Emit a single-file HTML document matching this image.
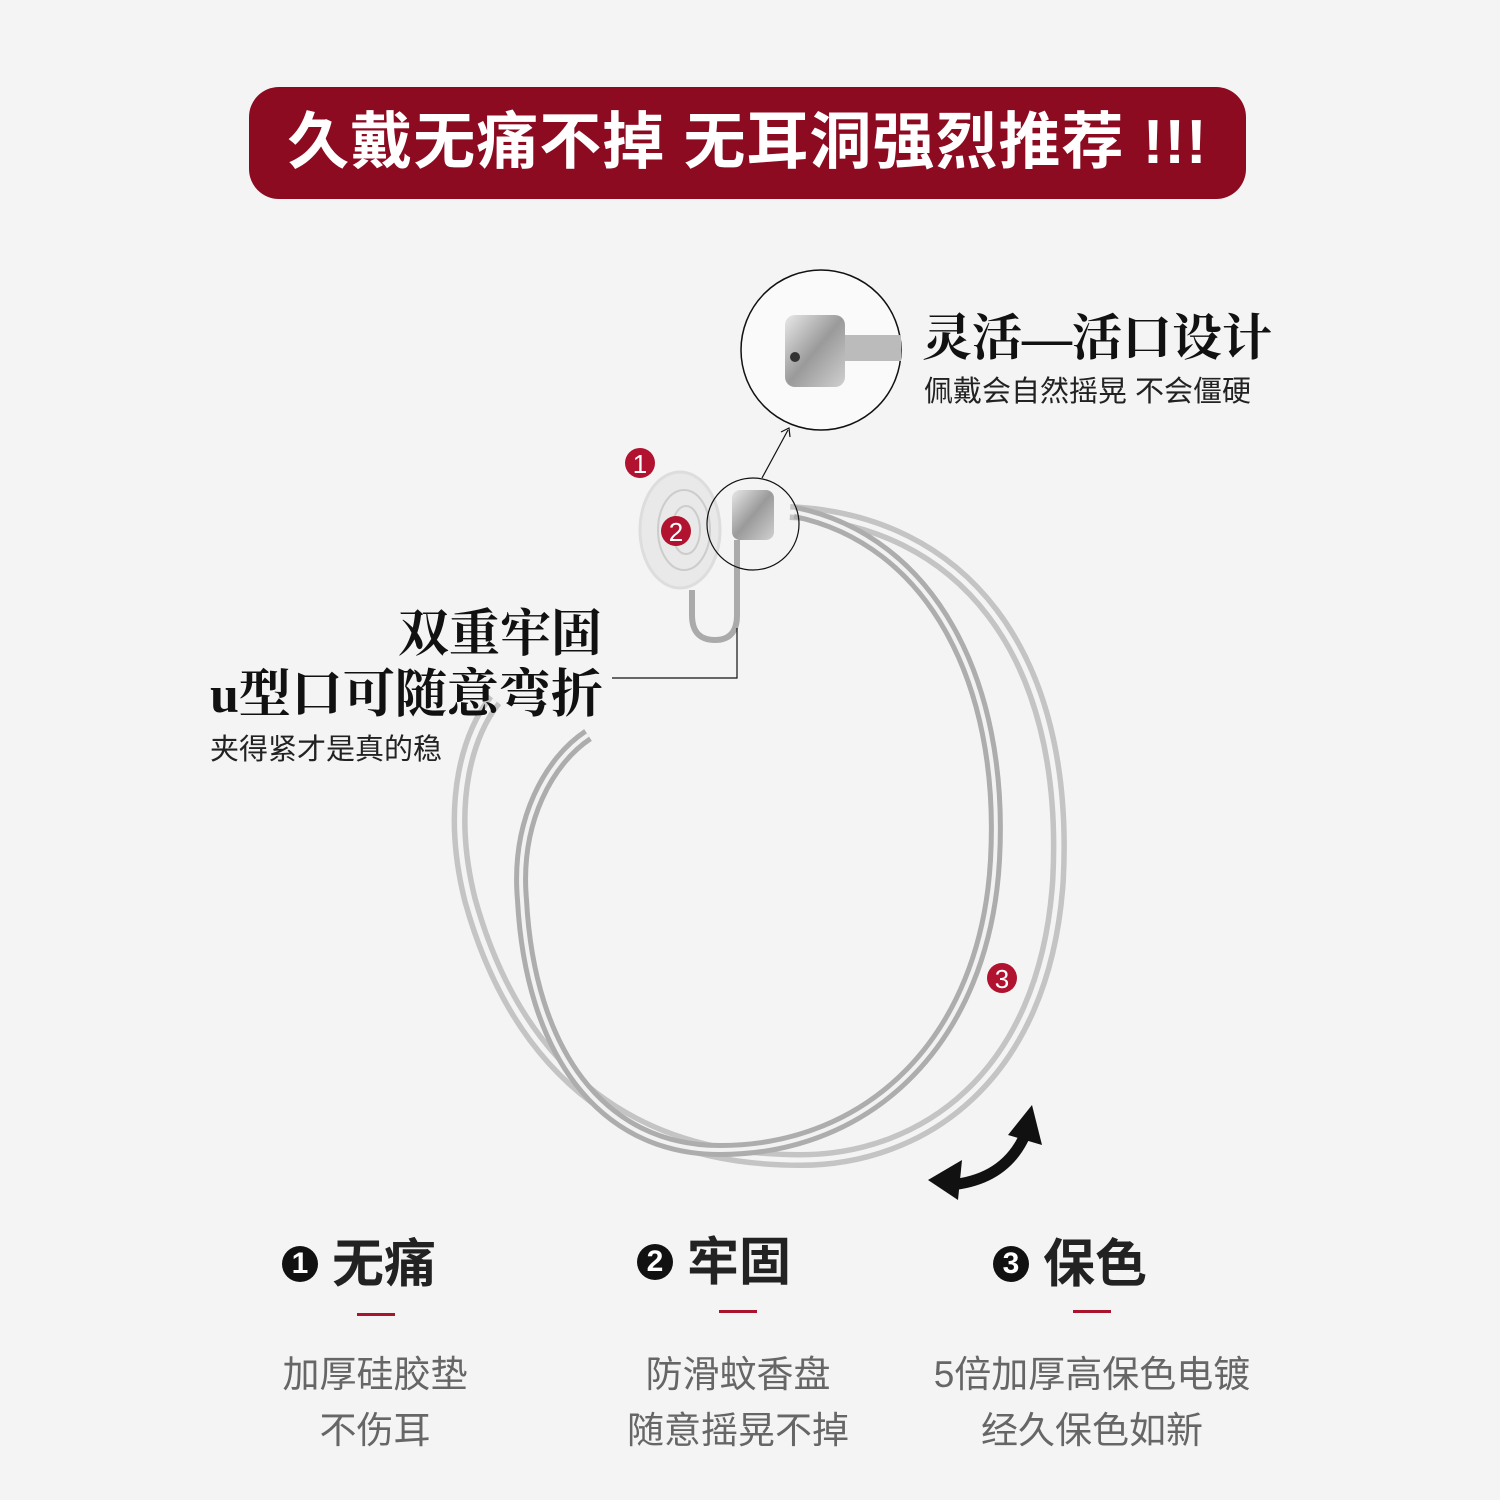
<!DOCTYPE html>
<html><head><meta charset="utf-8"><style>
body{margin:0;width:1500px;height:1500px;background:#f4f4f4;position:relative;overflow:hidden;font-family:"Liberation Sans","Noto Sans CJK SC",sans-serif}
.a{position:absolute;white-space:nowrap}
.banner{left:249px;top:87px;width:997px;height:112px;background:#8c0b21;border-radius:30px;color:#fff;font-size:62px;font-weight:bold;line-height:112px;text-align:center;letter-spacing:1px}
.serif{font-family:"Liberation Serif","Noto Serif CJK SC",serif;font-weight:bold;color:#111}
.h{font-size:52px;font-weight:bold;color:#222}
.d{font-size:37px;color:#666;text-align:center;line-height:56px}
.bar{position:absolute;width:38px;height:3px;background:#a8142e}
.num{display:inline-block;width:36px;height:36px;border-radius:50%;background:#111;color:#fff;font-size:30px;line-height:36px;text-align:center;vertical-align:middle;margin-right:14px;position:relative;top:-4px}
</style></head><body>
<div class="a banner">久戴无痛不掉 无耳洞强烈推荐 !!!</div>
<svg class="a" style="left:0;top:0" width="1500" height="1500">
<defs>
<linearGradient id="s" x1="0" y1="0" x2="1" y2="1"><stop offset="0" stop-color="#e8e8e8"/><stop offset=".5" stop-color="#9a9a9a"/><stop offset="1" stop-color="#d0d0d0"/></linearGradient>
</defs>
<path d="M790 512 C960 520 1070 650 1058 880 C1045 1080 920 1160 800 1160 C640 1160 520 1080 470 900 C445 800 470 730 495 700" fill="none" stroke="#c4c4c4" stroke-width="16"/>
<path d="M790 512 C960 520 1070 650 1058 880 C1045 1080 920 1160 800 1160 C640 1160 520 1080 470 900 C445 800 470 730 495 700" fill="none" stroke="#f4f4f4" stroke-width="5"/>
<path d="M795 512 C930 540 1005 680 995 860 C985 1040 870 1150 720 1150 C600 1150 530 1050 522 900 C515 820 550 760 588 735" fill="none" stroke="#adadad" stroke-width="14"/>
<path d="M795 512 C930 540 1005 680 995 860 C985 1040 870 1150 720 1150 C600 1150 530 1050 522 900 C515 820 550 760 588 735" fill="none" stroke="#f2f2f2" stroke-width="4"/>
<path d="M737 540 L737 615 Q737 640 715 640 Q692 640 692 615 L692 590" fill="none" stroke="#aaa" stroke-width="6"/>
<ellipse cx="680" cy="530" rx="40" ry="58" fill="#e9e9e9" stroke="#ddd" stroke-width="3"/>
<ellipse cx="684" cy="530" rx="26" ry="40" fill="none" stroke="#ccc" stroke-width="2"/>
<ellipse cx="686" cy="530" rx="14" ry="24" fill="none" stroke="#ccc" stroke-width="2"/>
<rect x="732" y="490" width="42" height="50" rx="8" fill="url(#s)"/>
<circle cx="753" cy="524" r="46" fill="none" stroke="#111" stroke-width="1.2"/>
<line x1="762" y1="478" x2="788" y2="430" stroke="#111" stroke-width="1.2"/>
<path d="M781 432 L789 428 L790 437" fill="none" stroke="#111" stroke-width="1.2"/>
<circle cx="821" cy="350" r="80" fill="#fafafa" stroke="#111" stroke-width="1.5"/>
<rect x="785" y="315" width="60" height="72" rx="10" fill="url(#s)"/>
<rect x="845" y="335" width="56" height="26" fill="#bbb"/>
<circle cx="795" cy="357" r="5" fill="#333"/>
<polyline points="612,678 737,678 737,628" fill="none" stroke="#111" stroke-width="1.2"/>
<circle cx="640" cy="463" r="15" fill="#b0122f"/><text x="640" y="473" fill="#fff" font-size="26" text-anchor="middle" font-family="Liberation Sans">1</text>
<circle cx="676" cy="531" r="15" fill="#b0122f"/><text x="676" y="541" fill="#fff" font-size="26" text-anchor="middle" font-family="Liberation Sans">2</text>
<circle cx="1002" cy="978" r="15" fill="#b0122f"/><text x="1002" y="988" fill="#fff" font-size="26" text-anchor="middle" font-family="Liberation Sans">3</text>
<path d="M950 1185 Q1005 1180 1025 1135" fill="none" stroke="#111" stroke-width="11"/>
<polygon points="928,1180 962,1160 958,1200" fill="#111"/>
<polygon points="1032,1105 1042,1145 1008,1135" fill="#111"/>
</svg>
<div class="a serif" style="left:922px;top:298px;font-size:50px">灵活—活口设计</div>
<div class="a" style="left:924px;top:368px;font-size:29px;color:#222">佩戴会自然摇晃 不会僵硬</div>
<div class="a serif" style="left:398px;top:592px;font-size:51px">双重牢固</div>
<div class="a serif" style="left:210px;top:652px;font-size:52px">u型口可随意弯折</div>
<div class="a" style="left:210px;top:726px;font-size:29px;color:#222">夹得紧才是真的稳</div>
<div class="a h" style="left:282px;top:1222px"><span class="num">1</span>无痛</div>
<div class="a h" style="left:637px;top:1220px"><span class="num">2</span>牢固</div>
<div class="a h" style="left:993px;top:1222px"><span class="num">3</span>保色</div>
<div class="bar" style="left:357px;top:1313px"></div>
<div class="bar" style="left:719px;top:1310px"></div>
<div class="bar" style="left:1073px;top:1310px"></div>
<div class="a d" style="left:225px;top:1347px;width:300px">加厚硅胶垫<br>不伤耳</div>
<div class="a d" style="left:588px;top:1347px;width:300px">防滑蚊香盘<br>随意摇晃不掉</div>
<div class="a d" style="left:892px;top:1347px;width:400px">5倍加厚高保色电镀<br>经久保色如新</div>
</body></html>
